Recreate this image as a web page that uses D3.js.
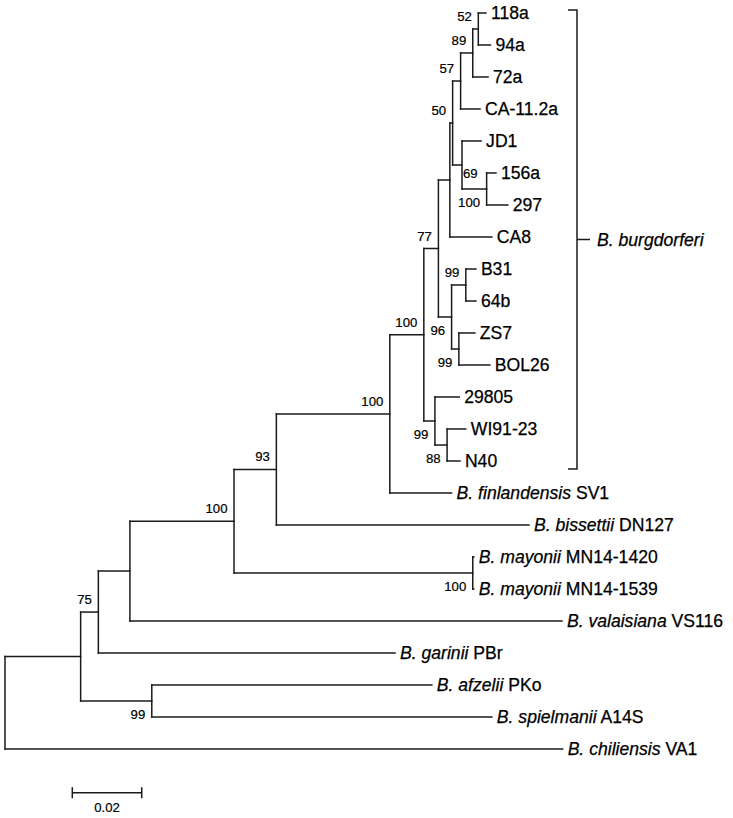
<!DOCTYPE html>
<html><head><meta charset="utf-8">
<script src="https://cdn.jsdelivr.net/npm/d3@7/dist/d3.min.js"></script>
<style>body{margin:0;background:#fff}svg{display:block}</style>
</head><body><svg id="chart" width="733" height="818"></svg>
<script>
// ---- data (tree rows in top-to-bottom order) ----
const nodeIds = ["root","A","B","D","E","F","G","H","I","Y","N50","N57","N89","N52","118a","94a","72a","CA-11.2a","Z","JD1","N100b","156a","297","CA8","K","N99a","B31","64b","N99b","ZS7","BOL26","J","29805","N88","WI91-23","N40","finlandensis","bissettii","M","mayonii1420","mayonii1539","valaisiana","garinii","C","afzelii","spielmanii","chiliensis"];
const parentIds = ["","root","A","B","D","E","F","G","H","I","Y","N50","N57","N89","N52","N52","N89","N57","N50","Z","Z","N100b","N100b","Y","I","K","N99a","N99a","K","N99b","N99b","H","J","J","N88","N88","G","F","E","M","M","D","B","A","C","C","root"];
const branchLengths = [0,0.0218,0.0051,0.0091,0.0300,0.0122,0.0327,0.0098,0.0042,0.0033,0.0008,0.0023,0.0035,0.0016,0.0022,0.0035,0.0044,0.0056,0.0027,0.0055,0.0071,0.0027,0.0061,0.0121,0.0038,0.0041,0.0029,0.0029,0.0021,0.0046,0.0089,0.0032,0.0070,0.0035,0.0054,0.0037,0.0178,0.0728,0.0688,0.0003,0.0003,0.1245,0.0855,0.0205,0.0807,0.0980,0.1607];
const bootstrapValues = [null,null,75,null,100,93,100,100,77,null,50,57,89,52,null,null,null,null,69,null,100,null,null,null,96,99,null,null,99,null,null,99,null,88,null,null,null,null,100,null,null,null,null,99,null,null,null];
const taxonSpecies = ["","","","","","","","","","","","","","","","","","","","","","","","","","","","","","","","","","","","","B. finlandensis","B. bissettii","","B. mayonii","B. mayonii","B. valaisiana","B. garinii","","B. afzelii","B. spielmanii","B. chiliensis"];
const taxonStrains = ["","","","","","","","","","","","","","","118a","94a","72a","CA-11.2a","","JD1","","156a","297","CA8","","","B31","64b","","ZS7","BOL26","","29805","","WI91-23","N40","SV1","DN127","","MN14-1420","MN14-1539","VS116","PBr","","PKo","A14S","VA1"];
const cladeLabel = "B. burgdorferi";
const cladeFirst = "118a", cladeLast = "N40";
const scaleBarValue = 0.02;
const scaleBarLabel = "0.02";

// ---- style config ----
const lowerLeft = new Set(["N100b","C","M","N99b","J","N88","K"]);
const lowerRight = new Set(["Z"]);
const LINE = "#1a1a1a", SW = 1.5;
const FONT = "Liberation Sans, Arial, sans-serif";
const TIP_SIZE = 17.6, BS_SIZE = 13.2;

const rows = nodeIds.map((id,i)=>({id, parent: parentIds[i], bl: branchLengths[i], bs: bootstrapValues[i], sp: taxonSpecies[i], st: taxonStrains[i]}));
const root = d3.stratify().id(d=>d.id).parentId(d=>d.parent||null)(rows);

root.each(n=>{ n.depth2 = n.parent ? n.parent.depth2 + n.data.bl : 0; });
const leaves = root.leaves();

const x = d3.scaleLinear().domain([0, 0.02]).range([5, 74.4]);
const y = d3.scalePoint().domain(leaves.map(d=>d.id)).range([13, 749]);

root.eachAfter(n=>{
  n.px = x(n.depth2);
  if (!n.children) n.py = y(n.id);
  else n.py = (n.children[0].py + n.children[n.children.length-1].py)/2;
});

const svg = d3.select("#chart");
const g = svg.append("g");

// horizontal branches
g.selectAll("line.h").data(root.descendants().filter(d=>d.parent)).join("line")
  .attr("x1", d=>d.parent.px).attr("x2", d=>d.px)
  .attr("y1", d=>d.py).attr("y2", d=>d.py)
  .attr("stroke", LINE).attr("stroke-width", SW).attr("stroke-linecap","square");
// vertical connectors
g.selectAll("line.v").data(root.descendants().filter(d=>d.children)).join("line")
  .attr("x1", d=>d.px).attr("x2", d=>d.px)
  .attr("y1", d=>d.children[0].py).attr("y2", d=>d.children[d.children.length-1].py)
  .attr("stroke", LINE).attr("stroke-width", SW).attr("stroke-linecap","square");

// tip labels
const tl = g.selectAll("text.tip").data(leaves).join("text")
  .attr("x", d=>d.px + 5).attr("y", d=>d.py + 6.2)
  .attr("font-family",FONT).attr("font-size",TIP_SIZE).attr("fill","#000")
  .attr("stroke","#000").attr("stroke-width",0.25);
tl.each(function(d){
  const t = d3.select(this);
  if (d.data.sp) {
    t.append("tspan").attr("font-style","italic").text(d.data.sp);
    t.append("tspan").text(" " + d.data.st);
  } else t.text(d.data.st);
});

// bootstrap labels
g.selectAll("text.bs").data(root.descendants().filter(d=>d.data.bs!=null)).join("text")
  .attr("x", d=> lowerRight.has(d.id) ? d.px + 1 : d.px - 6.5)
  .attr("y", d=> lowerRight.has(d.id) ? d.py + 12.5 : (lowerLeft.has(d.id) ? d.py + 17.5 : d.py - 8))
  .attr("text-anchor", d=> lowerRight.has(d.id) ? "start" : "end")
  .attr("font-family",FONT).attr("font-size",BS_SIZE).attr("fill","#000")
  .attr("stroke","#000").attr("stroke-width",0.2)
  .text(d=>d.data.bs);

// clade bracket
const bx = 577;
const bTop = y(cladeFirst) - 3, bBot = y(cladeLast) + 8, bMid = (bTop + bBot)/2;
g.append("path")
  .attr("d", `M${bx-9},${bTop}H${bx}V${bBot}H${bx-9}M${bx},${bMid}H${bx+13}`)
  .attr("fill","none").attr("stroke",LINE).attr("stroke-width",SW);
g.append("text").attr("x", bx+20).attr("y", bMid+6.2)
  .attr("font-family",FONT).attr("font-size",TIP_SIZE).attr("font-style","italic").attr("fill","#000")
  .attr("stroke","#000").attr("stroke-width",0.25)
  .text(cladeLabel);

// scale bar
const sx0 = 72.3, sy = 792.7, sw = x(scaleBarValue) - x(0);
g.append("path")
  .attr("d", `M${sx0},${sy-5.5}V${sy+5.5}M${sx0},${sy}H${sx0+sw}M${sx0+sw},${sy-5.5}V${sy+5.5}`)
  .attr("fill","none").attr("stroke",LINE).attr("stroke-width",SW);
g.append("text").attr("x", sx0 + sw/2).attr("y", 812).attr("text-anchor","middle")
  .attr("font-family",FONT).attr("font-size",BS_SIZE).attr("fill","#000")
  .attr("stroke","#000").attr("stroke-width",0.2)
  .text(scaleBarLabel);
</script></body></html>
